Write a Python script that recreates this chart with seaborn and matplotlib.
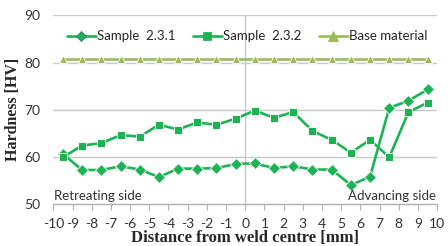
import matplotlib
matplotlib.use("Agg")
import matplotlib.pyplot as plt
import seaborn as sns
import pandas as pd
import numpy as np

distance = [-9.5, -8.5, -7.5, -6.5, -5.5, -4.5, -3.5, -2.5, -1.5, -0.5,
            0.5, 1.5, 2.5, 3.5, 4.5, 5.5, 6.5, 7.5, 8.5, 9.5]
sample_231 = [60.6, 57.2, 57.2, 58.0, 57.3, 55.7, 57.5, 57.5, 57.6, 58.5,
              58.6, 57.6, 58.0, 57.3, 57.3, 54.0, 55.8, 70.4, 71.9, 74.3]
sample_232 = [59.9, 62.4, 62.9, 64.6, 64.3, 66.8, 65.8, 67.3, 66.8, 68.1,
              69.8, 68.3, 69.5, 65.5, 63.6, 60.9, 63.6, 59.9, 69.5, 71.5]
base_material = [80.8] * 20
series_names = ["Sample  2.3.1", "Sample  2.3.2", "Base material"]
xticks = list(range(-10, 11))
yticks = [50, 60, 70, 80, 90]

df = pd.concat([
    pd.DataFrame({"x": distance, "y": sample_231, "s": series_names[0]}),
    pd.DataFrame({"x": distance, "y": sample_232, "s": series_names[1]}),
    pd.DataFrame({"x": distance, "y": base_material, "s": series_names[2]}),
])

sns.set_style("white")
plt.rcParams["font.family"] = ["Lato", "DejaVu Sans"]

fig = plt.figure(figsize=(4.48, 2.46), dpi=100)
ax = fig.add_axes([0.119, 0.171, 0.857, 0.766])

green = "#1db355"
olive = "#9bbb59"
palette = {series_names[0]: green, series_names[1]: green, series_names[2]: olive}
markers = {series_names[0]: "D", series_names[1]: "s", series_names[2]: "^"}

sns.lineplot(data=df, x="x", y="y", hue="s", style="s", palette=palette,
             markers=markers, dashes=False, ax=ax, linewidth=1.9,
             markersize=6, markeredgewidth=0.6, sort=False)

for line in ax.lines:
    lbl = line.get_label()
    if lbl == series_names[0]:
        line.set_markeredgecolor("#2a7f6a")
        line.set_markersize(5.2)
    elif lbl == series_names[1]:
        line.set_markeredgecolor(green)
        line.set_markersize(5.8)
    elif lbl == series_names[2]:
        line.set_markeredgecolor(olive)
        line.set_markersize(6.8)

ax.set_xlim(-10, 10)
ax.set_ylim(50, 90)
ax.set_xticks(xticks)
ax.set_xticklabels([str(t) for t in xticks])
ax.set_yticks(yticks)
ax.grid(False)
for t in yticks[1:]:
    ax.axhline(t, color="#c8c8c8", linewidth=1.0, zorder=0)
ax.axvline(0, color="#c8c8c8", linewidth=1.0, zorder=0)

for side in ["top", "right", "left"]:
    ax.spines[side].set_visible(False)
ax.spines["bottom"].set_color("#b0b0b0")
ax.spines["bottom"].set_linewidth(1.0)
ax.tick_params(axis="x", which="both", bottom=True, length=4, width=0.8,
               color="#b0b0b0", labelsize=10, labelcolor="#333333", pad=6)
ax.tick_params(axis="y", left=False, labelsize=10, labelcolor="#333333", pad=6)

ax.set_xlabel("Distance from weld centre [mm]", family=["Liberation Serif"],
              fontweight="bold", fontsize=12, labelpad=0)
ax.set_ylabel("Hardness [HV]", family=["Liberation Serif"],
              fontweight="bold", fontsize=11.5, labelpad=2)

ax.text(0.003, 0.01, "Retreating side", transform=ax.transAxes, ha="left",
        va="bottom", fontsize=9.5, color="#333333")
ax.text(0.997, 0.01, "Advancing side", transform=ax.transAxes, ha="right",
        va="bottom", fontsize=9.5, color="#333333")

handles, labels = ax.get_legend_handles_labels()
ax.legend(handles, labels, ncol=3, loc="center", bbox_to_anchor=(0.505, 0.89),
          frameon=False, fontsize=9.5, handlelength=2.2, handletextpad=0.1,
          columnspacing=1.3, borderaxespad=0)

fig.savefig("out.png", dpi=100)
